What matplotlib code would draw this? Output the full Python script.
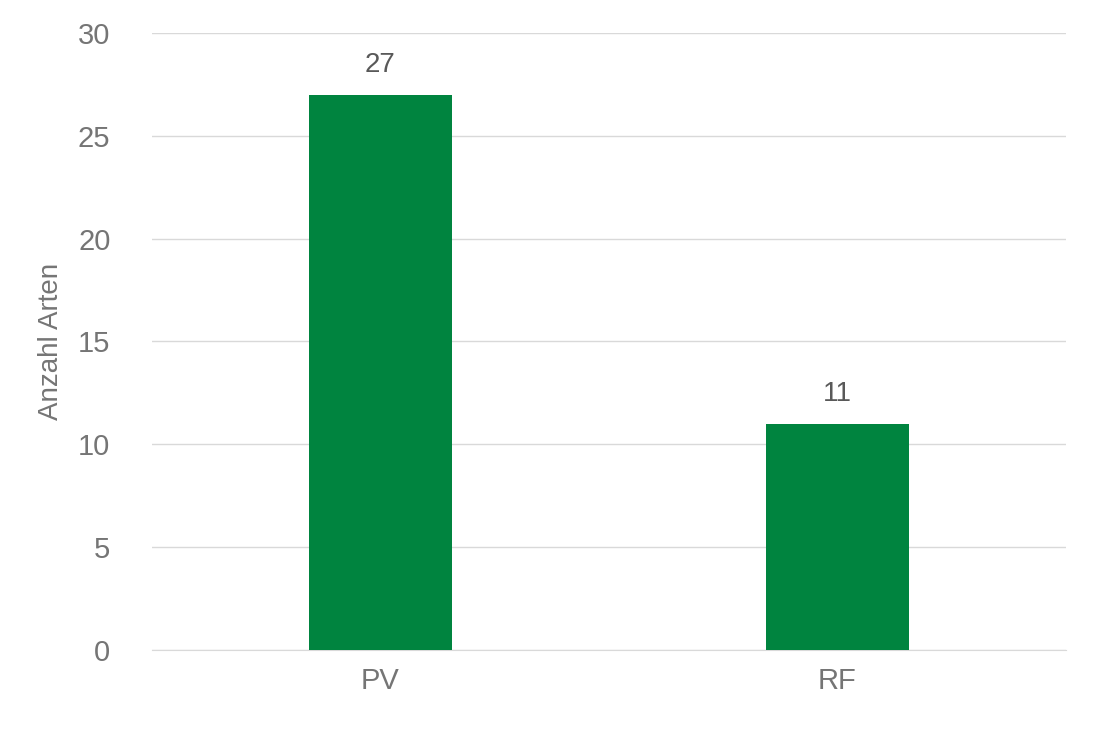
import matplotlib
matplotlib.use("Agg")
import matplotlib.pyplot as plt

categories = ["PV", "RF"]
values = [27, 11]

plt.rcParams['font.family'] = ['Liberation Sans', 'DejaVu Sans']
fig = plt.figure(figsize=(10.94, 7.3), dpi=100)
ax = fig.add_axes([0.139, 0.1096, 0.835, 0.8454])
x = range(len(categories))
bars = ax.bar(x, values, width=0.313, color="#00843f", zorder=3)
for xi, v in zip(x, values):
    ax.text(xi, v + 0.8, str(v), ha="center", va="bottom", fontsize=20, color="#595959")
ax.set_xlim(-0.5, 1.5)
ax.set_ylim(0, 30)
ax.set_yticks(range(0, 31, 5))
ax.set_xticks(list(x))
ax.set_xticklabels(categories)
ax.grid(axis="y", color="#d9d9d9", linewidth=1, zorder=0)
for s in ["top", "right", "left"]:
    ax.spines[s].set_visible(False)
ax.spines["bottom"].set_color("#d9d9d9")
ax.tick_params(axis="both", length=0, labelsize=21, colors="#757575", pad=12)
ax.tick_params(axis="y", pad=30)
ax.set_ylabel("Anzahl Arten", fontsize=20, color="#757575", labelpad=10)
fig.savefig("out.png", dpi=100)
